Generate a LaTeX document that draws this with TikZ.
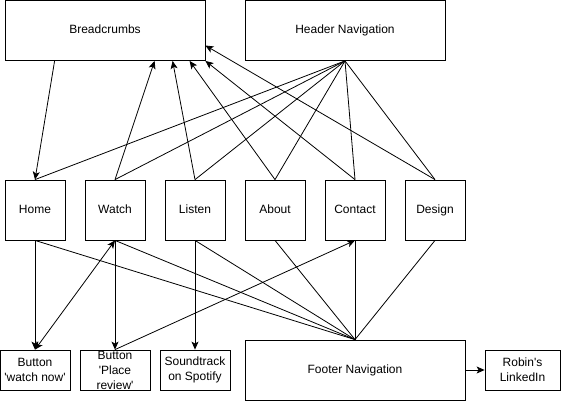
\documentclass[tikz,border=0pt]{standalone}
\usepackage{fontspec}
\setmainfont{Liberation Sans}[Ligatures=TeXOff]
\usetikzlibrary{arrows.meta,positioning,calc}

\begin{document}
\begin{tikzpicture}[x=1pt,y=-1pt,line width=0.8pt,
    font=\fontsize{12}{15}\selectfont,
    >={Stealth[length=8pt,width=7pt,inset=2pt]},
    page/.style={draw,minimum width=60pt,minimum height=60pt,inner sep=0pt,text height=8.6pt,text depth=2.5pt},
    feature/.style={draw,minimum width=70pt,minimum height=40pt,inner sep=0pt,align=center},
    nav/.style={draw,minimum width=200pt,minimum height=60pt,inner sep=0pt,text height=8.6pt,text depth=2.5pt}]
    \useasboundingbox (0,0) rectangle (561,401);

    % Top navigation
    \node[nav] (crumbs) at (105,30.5) {Breadcrumbs};
    \node[nav] (header) at (345,30.5) {Header Navigation};

    % Pages
    \foreach \n/\t [count=\i from 0] in {home/Home,watch/Watch,listen/Listen,about/About,contact/Contact,design/Design}
        \node[page] (\n) at (35+80*\i,210) {\t};

    % Features and footer
    \node[feature] (watchnow) at (35,370) {Button\\'watch now'};
    \node[feature,inner ysep=-3pt] (review) at (115,370) {Button\\'Place\\review'};
    \node[feature] (spotify) at (195,370) {Soundtrack\\on Spotify};
    \node[nav,minimum width=220pt] (footer) at (355,370) {Footer Navigation};
    \node[feature,minimum width=75pt] (linkedin) at (522.5,370) {Robin's\\LinkedIn};

    % Header links
    \foreach \n in {home,watch,listen,about,contact,design}
        \draw (header.south) -- (\n.north);

    % Breadcrumb links
    \draw[->] ([xshift=50pt]crumbs.south west) -- (home.north);
    \draw[->] (watch.north) -- ([xshift=150pt]crumbs.south west);
    \draw[->] (listen.north) -- ([xshift=168pt]crumbs.south west);
    \draw[->] (about.north) -- ([xshift=185pt]crumbs.south west);
    \draw[->] (contact.north) -- (crumbs.south east);
    \draw[->] (design.north) -- ([yshift=-15pt]crumbs.east);

    % Footer links
    \foreach \n in {home,watch,listen,about,contact,design}
        \draw (\n.south) -- (footer.north);

    % Feature links
    \draw[->] (home.south) -- (watchnow.north);
    \draw[<->] (watchnow.north) -- (watch.south);
    \draw[->] (watch.south) -- (review.north);
    \draw[->] (listen.south) -- (spotify.north);
    \draw[->] (review.north) -- (contact.south);
    \draw[->] (footer.east) -- (linkedin.west);
\end{tikzpicture}
\end{document}
